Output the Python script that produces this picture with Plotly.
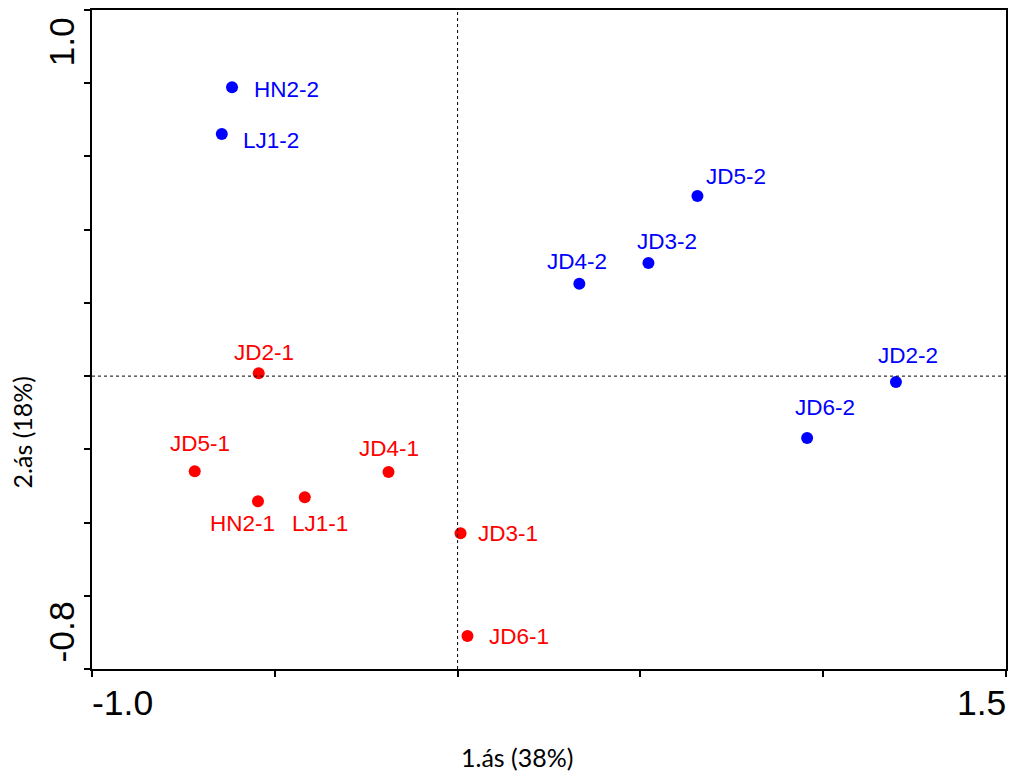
import plotly.graph_objects as go

# ---- data ----
labels = ["HN2-2", "LJ1-2", "JD5-2", "JD3-2", "JD4-2", "JD2-2", "JD6-2",
          "JD2-1", "JD5-1", "HN2-1", "LJ1-1", "JD4-1", "JD3-1", "JD6-1"]
x_vals = [-0.617, -0.645, 0.656, 0.522, 0.333, 1.199, 0.956,
          -0.544, -0.719, -0.546, -0.418, -0.189, 0.008, 0.027]
y_vals = [0.789, 0.661, 0.492, 0.309, 0.252, -0.016, -0.169,
          0.008, -0.260, -0.342, -0.331, -0.262, -0.429, -0.710]
groups = ["2"] * 7 + ["1"] * 7

x_title = "1.ás (38%)"
y_title = "2.ás (18%)"
x_range = [-1.0, 1.5]
y_range = [-0.8, 1.0]
x_ticks = [-1.0, -0.5, 0.0, 0.5, 1.0, 1.5]
y_ticks = [-0.8, -0.6, -0.4, -0.2, 0.0, 0.2, 0.4, 0.6, 0.8, 1.0]
x_end_labels = ["-1.0", "1.5"]
y_end_labels = ["-0.8", "1.0"]

# ---- label placement (pixel offsets from the point; style only) ----
label_anchor = ["left", "left", "center", "center", "center", "center", "center",
                "center", "center", "center", "center", "center", "left", "left"]
label_dx = [20, 19, 39, 19, -2, 12, 18, 5, 5, -15, 15, 0, 15, 20]
label_dy = [-2, -6, 19, 21, 22, 26, 30, 21, 28, -22, -26, 24, 0, 0]

colors = {"1": "#ff0000", "2": "#0000ff"}

fig = go.Figure()
for g in ["2", "1"]:
    xs = [x for x, gg in zip(x_vals, groups) if gg == g]
    ys = [y for y, gg in zip(y_vals, groups) if gg == g]
    fig.add_trace(go.Scatter(x=xs, y=ys, mode="markers",
                             marker=dict(color=colors[g], size=12),
                             showlegend=False, hoverinfo="skip"))

annotations = []
for lab, x, y, g, anc, dx, dy in zip(labels, x_vals, y_vals, groups, label_anchor, label_dx, label_dy):
    annotations.append(dict(x=x, y=y, xref="x", yref="y", text=lab, showarrow=False,
                            xanchor=anc, yanchor="middle", xshift=dx, yshift=dy,
                            font=dict(family="Liberation Sans, Arial", size=22.5, color=colors[g])))

tick_font = dict(family="Liberation Sans, Arial", size=35.5, color="black")
# x end labels
annotations.append(dict(x=x_range[0], y=0, xref="x", yref="paper", text=x_end_labels[0],
                        showarrow=False, xanchor="left", yanchor="top", yshift=-12, xshift=-2,
                        font=tick_font))
annotations.append(dict(x=x_range[1], y=0, xref="x", yref="paper", text=x_end_labels[1],
                        showarrow=False, xanchor="right", yanchor="top", yshift=-12, xshift=2,
                        font=tick_font))
# y end labels (rotated)
annotations.append(dict(x=0, y=y_range[0], xref="paper", yref="y", text=y_end_labels[0],
                        showarrow=False, xanchor="center", yanchor="bottom", textangle=-90,
                        xshift=-31, yshift=4, font=tick_font))
annotations.append(dict(x=0, y=y_range[1], xref="paper", yref="y", text=y_end_labels[1],
                        showarrow=False, xanchor="center", yanchor="top", textangle=-90,
                        xshift=-31, yshift=-6, font=tick_font))

title_font = dict(family="Lato, Open Sans", size=25, color="black")
annotations.append(dict(x=0.4655, y=0, xref="paper", yref="paper", text=x_title, showarrow=False,
                        xanchor="center", yanchor="middle", yshift=-88, font=title_font))
annotations.append(dict(x=0, y=0.359, xref="paper", yref="paper", text=y_title, showarrow=False,
                        xanchor="center", yanchor="middle", textangle=-90, xshift=-70,
                        font=title_font))

shapes = [
    dict(type="line", xref="x", yref="paper", x0=0, x1=0, y0=0, y1=1,
         line=dict(color="black", width=1, dash="dot")),
    dict(type="line", xref="paper", yref="y", x0=0, x1=1, y0=0, y1=0,
         line=dict(color="black", width=1, dash="dot")),
]

axis_common = dict(showgrid=False, zeroline=False, showline=True, linecolor="black",
                   linewidth=1.5, mirror=True, ticks="outside", ticklen=6, tickwidth=1.5,
                   tickcolor="black", showticklabels=False)

fig.update_layout(
    width=1010, height=772,
    margin=dict(l=92, r=2, t=10, b=103),
    paper_bgcolor="white", plot_bgcolor="white",
    xaxis=dict(range=x_range, tickvals=x_ticks, **axis_common),
    yaxis=dict(range=y_range, tickvals=y_ticks, **axis_common),
    annotations=annotations,
    shapes=shapes,
)

fig.write_html("out.html", config={"displayModeBar": False},
               post_script="document.body.style.margin='0';document.body.style.overflow='hidden';")
